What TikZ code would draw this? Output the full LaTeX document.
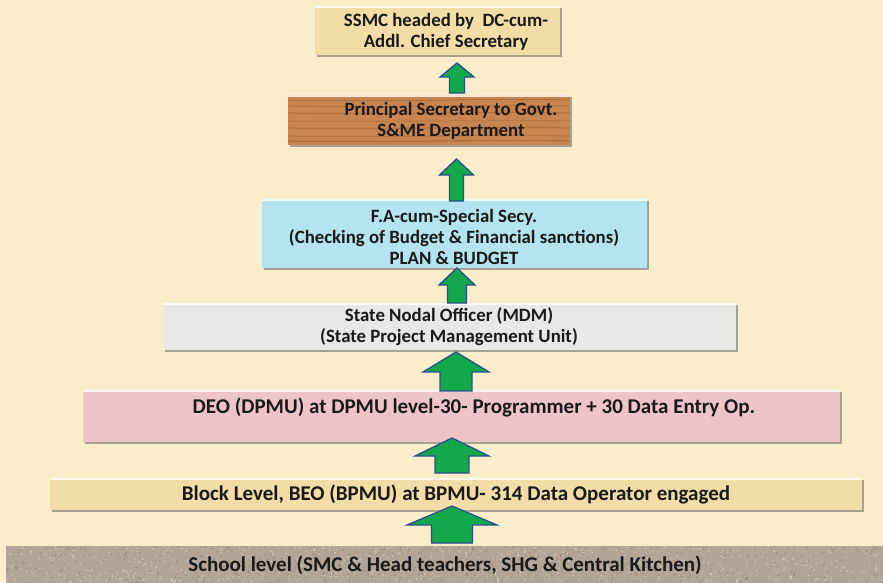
\documentclass[tikz,border=0pt]{standalone}
\usepackage{fontspec}
\setmainfont{Carlito}
\usetikzlibrary{calc,shadows}
\definecolor{bgc}{HTML}{FAEDCB}
\definecolor{c1}{HTML}{F3DDA6}
\definecolor{c2}{HTML}{C9854F}
\definecolor{c3}{HTML}{B3E4EF}
\definecolor{c4}{HTML}{E8E8E6}
\definecolor{c5}{HTML}{EEC4C8}
\definecolor{c6}{HTML}{F2DCA8}
\definecolor{c7}{HTML}{B2A597}
\definecolor{arrfill}{HTML}{12A84B}
\definecolor{arrline}{HTML}{2F4F8C}
\definecolor{txt}{HTML}{1A1A1A}
\newcommand\bigarr[5]{%
  \filldraw[arr] ($(#1)+(-#5,0)$) -- ($(#2)+(-#5,#3)$) -- ($(#2)+(-#4,#3)$) -- (#2)
  -- ($(#2)+(#4,#3)$) -- ($(#2)+(#5,#3)$) -- ($(#1)+(#5,0)$) -- cycle;}
\begin{document}
\begin{tikzpicture}[x=1pt,y=-1pt,
  box/.style={draw=none, inner sep=0pt, anchor=north west,
    drop shadow={shadow xshift=2pt, shadow yshift=-2pt, fill=black!60, opacity=.55}},
  lbl/.style={inner sep=0pt, align=center, text=txt,
    font=\fontsize{18.8}{21}\selectfont\bfseries},
  lblbig/.style={lbl, font=\fontsize{21}{24}\selectfont\bfseries},
  arr/.style={fill=arrfill, draw=arrline, line width=1.3pt, line join=miter}]
\useasboundingbox (0,0) rectangle (883,582);
\fill[bgc] (0,0) rectangle (883,582);
% boxes
\node[box, fill=c1, minimum width=245pt, minimum height=49pt] (b1) at (315,6) {};
\node[box, fill=c2, minimum width=282pt, minimum height=50pt] (b2) at (288,95) {};
\node[box, fill=c3, minimum width=385pt, minimum height=69pt] (b3) at (262,199) {};
\node[box, fill=c4, minimum width=573pt, minimum height=47pt] (b4) at (163,303) {};
\node[box, fill=c5, minimum width=757pt, minimum height=52pt] (b5) at (83,390) {};
\node[box, fill=c6, minimum width=812pt, minimum height=32pt] (b6) at (50,478) {};
\node[box, fill=c7, minimum width=880pt, minimum height=40pt] (b7) at (6,546) {};
% top highlights
\foreach \b in {b1,b2,b3,b4,b5,b6}{
  \draw[white, opacity=.8, line width=1.5pt] ($(\b.north west)+(0,0.75)$) -- ($(\b.north east)+(0,0.75)$);}
% wood grain
\begin{scope}
\clip (b2.north west) rectangle (b2.south east);
\foreach \yy/\op in {100/.35,106/.25,113/.3,121/.2,128/.3,136/.25,141/.35}{
  \draw[brown!60!black, opacity=\op, line width=1.2pt] (288,\yy) .. controls (400,\yy+2) and (480,\yy-2) .. (570,\yy);}
\end{scope}
% granite speckle
\begin{scope}
\clip (b7.north west) rectangle (b7.south east);
\pgfmathsetseed{7}
\foreach \i in {1,...,700}{
  \pgfmathsetmacro\xx{6+880*rnd}\pgfmathsetmacro\yy{546+40*rnd}
  \fill[white, opacity=.35] (\xx,\yy) circle (0.9);}
\foreach \i in {1,...,700}{
  \pgfmathsetmacro\xx{6+880*rnd}\pgfmathsetmacro\yy{546+40*rnd}
  \fill[black!70, opacity=.25] (\xx,\yy) circle (0.9);}
\end{scope}
% labels
\node[lbl] (t1) at (446,32) {SSMC headed by~~DC-cum-\\Addl. Chief Secretary};
\node[lbl] (t2) at (451,120.5) {Principal Secretary to Govt.\\S\&ME Department};
\node[lbl] (t3) at (454,236.5) {F.A-cum-Special Secy.\\(Checking of Budget \& Financial sanctions)\\PLAN \& BUDGET};
\node[lbl] (t4) at (449,326.5) {State Nodal Officer (MDM)\\(State Project Management Unit)};
\node[lblbig] (t5) at (474,407) {DEO (DPMU) at DPMU level-30- Programmer + 30 Data Entry Op.};
\node[lblbig] (t6) at (456,494) {Block Level, BEO (BPMU) at BPMU- 314 Data Operator engaged};
\node[lblbig] (t7) at (445,565) {School level (SMC \& Head teachers, SHG \& Central Kitchen)};
% arrows
\coordinate (a1b) at (457,93);  \coordinate (a1t) at (457,63);
\coordinate (a2b) at (456.5,201); \coordinate (a2t) at (456.5,159);
\coordinate (a3b) at (457,303); \coordinate (a3t) at (457,268);
\coordinate (a4b) at (456,391); \coordinate (a4t) at (456,352);
\coordinate (a5b) at (452,473); \coordinate (a5t) at (452,438);
\coordinate (a6b) at (452,543); \coordinate (a6t) at (452,506);
\bigarr{a1b}{a1t}{14}{17}{7.5}
\bigarr{a2b}{a2t}{16}{17}{7}
\bigarr{a3b}{a3t}{17}{18}{9.5}
\bigarr{a4b}{a4t}{20}{33}{16}
\bigarr{a5b}{a5t}{18}{37}{17}
\bigarr{a6b}{a6t}{19}{45}{20.5}
\end{tikzpicture}
\end{document}
